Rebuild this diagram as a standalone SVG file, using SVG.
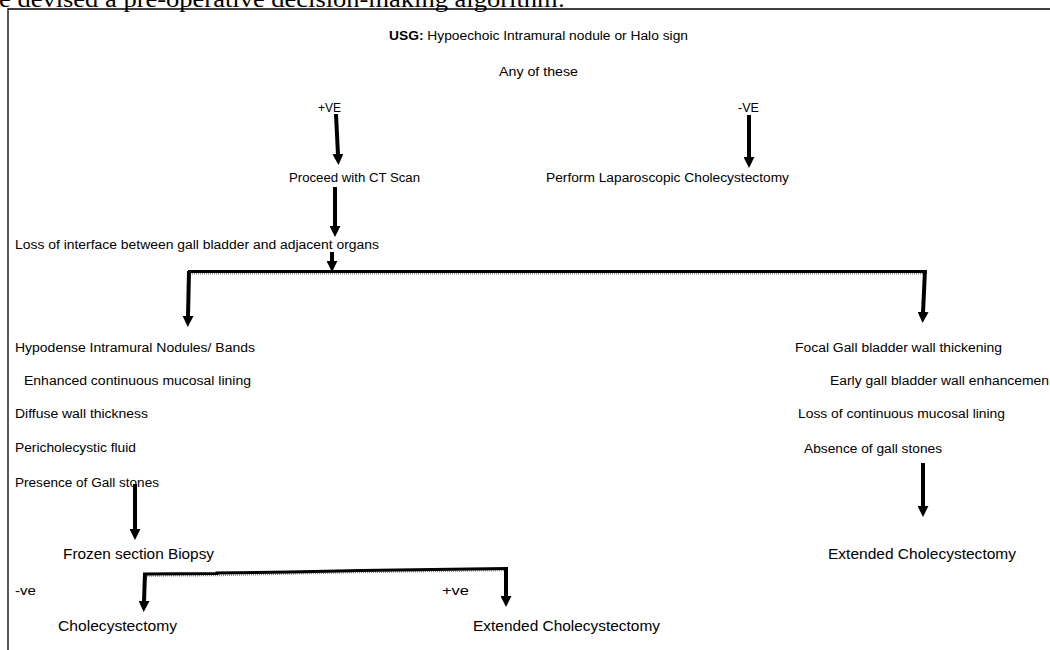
<svg xmlns="http://www.w3.org/2000/svg" width="1050" height="650" viewBox="0 0 1050 650">
<style>
.t{font-family:"Liberation Sans",Arial,sans-serif;font-size:12.5px;fill:#000}
.tl{font-size:14px}
.b{font-weight:bold}
.cap{font-family:"Liberation Serif","Times New Roman",serif;font-size:24px;fill:#000}
.sh{fill:none;stroke:#000;stroke-width:4;marker-end:url(#ah)}
.bar{fill:none;stroke:#000;stroke-width:3}
.bars{fill:none;stroke:#8a8a8a;stroke-width:1.5;stroke-dasharray:1 1}
.frame{fill:none;stroke:#000;stroke-width:1.3}
</style>
<defs>
<marker id="ah" viewBox="0 0 10 10" markerWidth="11" markerHeight="11" refX="1" refY="5" orient="auto" markerUnits="userSpaceOnUse">
<path d="M0,0 L10,5 L0,10 z" fill="#000"/>
</marker>
</defs>
<rect width="1050" height="650" fill="#fff"/>
<text class="cap" x="-1" y="7" textLength="566" lengthAdjust="spacingAndGlyphs">e devised a pre-operative decision-making algorithm:</text>
<path class="frame" d="M8,650 L8,9 L1050,9"/>

<g id="connectors">
<line class="sh" x1="336" y1="114" x2="338" y2="155"/>
<line class="sh" x1="749" y1="115" x2="749" y2="158"/>
<line class="sh" x1="335" y1="187" x2="335" y2="227"/>
<line class="sh" x1="332" y1="252" x2="332" y2="262"/>
<line class="bars" x1="190" y1="273.8" x2="925" y2="273.8"/>
<line class="bar" x1="188" y1="271.5" x2="926" y2="271.5"/>
<line class="sh" x1="189" y1="271" x2="188" y2="317"/>
<line class="sh" x1="925" y1="270" x2="923" y2="313"/>
<line class="sh" x1="135" y1="484" x2="135" y2="530"/>
<line class="sh" x1="923" y1="463" x2="923" y2="507"/>
<path class="bars" d="M145,576 L217,575.5 L290,574 L361,572.5 L433,571.5 L505,570.5"/>
<path class="bar" d="M143,574 L217,573.5 L217,573 L290,572 L361,570.5 L433,569.5 L507,568.5"/>
<line class="sh" x1="145" y1="573" x2="144" y2="602"/>
<line class="sh" x1="506" y1="567" x2="506" y2="597"/>
</g>

<g id="usg"><text class="t" x="389" y="40" textLength="299" lengthAdjust="spacingAndGlyphs"><tspan class="b">USG:</tspan> Hypoechoic Intramural nodule or Halo sign</text></g>
<g id="any"><text class="t" x="499" y="76" textLength="79" lengthAdjust="spacingAndGlyphs">Any of these</text></g>
<g id="pos"><text class="t" x="318" y="112" textLength="23" lengthAdjust="spacingAndGlyphs">+VE</text></g>
<g id="neg"><text class="t" x="738" y="112" textLength="21" lengthAdjust="spacingAndGlyphs">-VE</text></g>
<g id="ct"><text class="t" x="289" y="182" textLength="131" lengthAdjust="spacingAndGlyphs">Proceed with CT Scan</text></g>
<g id="lapchole"><text class="t" x="546" y="182" textLength="243" lengthAdjust="spacingAndGlyphs">Perform Laparoscopic Cholecystectomy</text></g>
<g id="loss"><text class="t" x="15" y="249" textLength="364" lengthAdjust="spacingAndGlyphs">Loss of interface between gall bladder and adjacent organs</text></g>
<g id="left-findings">
<text class="t" x="15" y="352" textLength="240" lengthAdjust="spacingAndGlyphs">Hypodense Intramural Nodules/ Bands</text>
<text class="t" x="24" y="385" textLength="227" lengthAdjust="spacingAndGlyphs">Enhanced  continuous mucosal lining</text>
<text class="t" x="15" y="418" textLength="133" lengthAdjust="spacingAndGlyphs">Diffuse wall thickness</text>
<text class="t" x="15" y="452" textLength="121" lengthAdjust="spacingAndGlyphs">Pericholecystic fluid</text>
<text class="t" x="15" y="487" textLength="144" lengthAdjust="spacingAndGlyphs">Presence of Gall stones</text>
</g>
<g id="right-findings">
<text class="t" x="795" y="352" textLength="207" lengthAdjust="spacingAndGlyphs">Focal Gall bladder wall thickening</text>
<text class="t" x="830" y="385" textLength="219" lengthAdjust="spacingAndGlyphs">Early gall bladder wall enhancemen</text>
<text class="t" x="798" y="418" textLength="207" lengthAdjust="spacingAndGlyphs">Loss of continuous mucosal lining</text>
<text class="t" x="804" y="453" textLength="138" lengthAdjust="spacingAndGlyphs">Absence of gall stones</text>
</g>
<g id="frozen"><text class="t tl" x="63" y="559" textLength="151" lengthAdjust="spacingAndGlyphs">Frozen section Biopsy</text></g>
<g id="ext-right"><text class="t tl" x="828" y="559" textLength="188" lengthAdjust="spacingAndGlyphs">Extended Cholecystectomy</text></g>
<g id="negve"><text class="t" x="15" y="595" textLength="21" lengthAdjust="spacingAndGlyphs">-ve</text></g>
<g id="posve"><text class="t" x="442" y="595" textLength="27" lengthAdjust="spacingAndGlyphs">+ve</text></g>
<g id="chole"><text class="t tl" x="58" y="631" textLength="119" lengthAdjust="spacingAndGlyphs">Cholecystectomy</text></g>
<g id="ext-bottom"><text class="t tl" x="473" y="631" textLength="187" lengthAdjust="spacingAndGlyphs">Extended Cholecystectomy</text></g>
</svg>
